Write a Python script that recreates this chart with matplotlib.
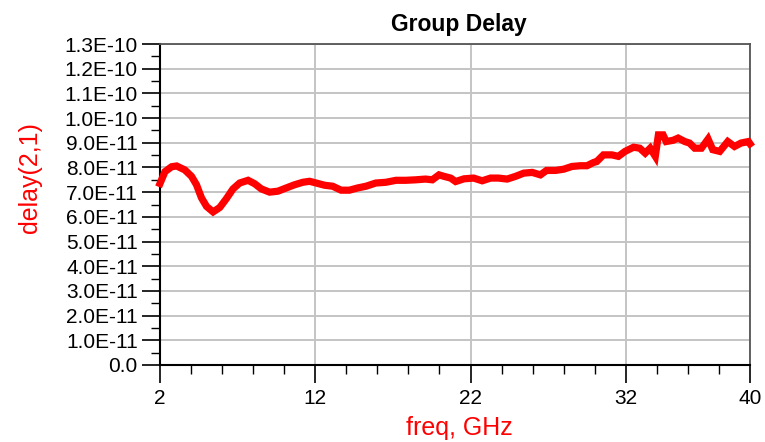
import matplotlib
matplotlib.use("Agg")
import matplotlib.pyplot as plt
from matplotlib.ticker import MultipleLocator, FixedLocator, FuncFormatter

plt.rcParams['font.family'] = ['Liberation Sans', 'DejaVu Sans']

# frequency in GHz, delay in units of 1e-11 s
freq = [2.0, 2.32, 2.75, 3.07, 3.6, 4.03, 4.35, 4.67, 5.0, 5.42,
        5.85, 6.28, 6.7, 7.13, 7.67, 8.1, 8.53, 9.06, 9.6, 10.13,
        10.67, 11.2, 11.63, 12.06, 12.6, 13.12, 13.66, 14.2, 14.73, 15.27,
        15.9, 16.55, 17.2, 17.83, 18.47, 19.1, 19.54, 19.97, 20.29, 20.72,
        21.04, 21.58, 22.2, 22.75, 23.29, 23.8, 24.36, 24.9, 25.43, 25.97,
        26.5, 26.9, 27.47, 28.0, 28.53, 29.07, 29.5, 29.92, 30.13, 30.56,
        31.1, 31.52, 31.95, 32.5, 32.9, 33.25, 33.57, 33.9, 34.1, 34.4,
        34.6, 35.05, 35.37, 35.8, 36.1, 36.44, 36.87, 37.3, 37.6, 38.05,
        38.57, 39.0, 39.43, 39.9, 40.0]
delay = [7.35, 7.83, 8.03, 8.06, 7.9, 7.64, 7.3, 6.77, 6.42, 6.2,
         6.38, 6.74, 7.13, 7.37, 7.48, 7.34, 7.13, 7.0, 7.04, 7.17,
         7.3, 7.4, 7.44, 7.37, 7.28, 7.24, 7.08, 7.08, 7.17, 7.24,
         7.37, 7.4, 7.48, 7.48, 7.5, 7.53, 7.5, 7.7, 7.64, 7.57,
         7.43, 7.54, 7.57, 7.46, 7.57, 7.57, 7.53, 7.64, 7.77, 7.8,
         7.7, 7.88, 7.88, 7.93, 8.04, 8.07, 8.07, 8.2, 8.24, 8.51,
         8.51, 8.45, 8.65, 8.82, 8.78, 8.58, 8.78, 8.45, 9.32, 9.32,
         9.05, 9.1, 9.19, 9.05, 8.99, 8.78, 8.78, 9.15, 8.72, 8.65,
         9.05, 8.85, 8.99, 9.05, 8.96]
delay_s = [d * 1e-11 for d in delay]

xticks = [2, 12, 22, 32, 40]

fig = plt.figure(figsize=(7.65, 4.42), dpi=100)
ax = fig.add_axes([160/765, 77/442, 590/765, 321/442])

ax.plot(freq, delay_s, color='#ff0000', lw=5.2, solid_joinstyle='miter',
        solid_capstyle='projecting', clip_on=False, zorder=3)

ax.set_xlim(2, 40)
ax.set_ylim(0, 1.3e-10)
ax.xaxis.set_major_locator(FixedLocator(xticks))
ax.xaxis.set_minor_locator(MultipleLocator(2))
ax.yaxis.set_major_locator(MultipleLocator(1e-11))
ax.yaxis.set_minor_locator(MultipleLocator(5e-12))
ax.yaxis.set_major_formatter(FuncFormatter(lambda v, p: '0.0' if abs(v) < 1e-15 else '%.1E' % v))

ax.grid(True, which='major', color='#c4c4c4', lw=1.4)
ax.set_axisbelow(True)
ax.tick_params(which='major', direction='out', length=13, width=1.2, labelsize=15, pad=3)
ax.tick_params(which='minor', direction='out', length=6.5, width=1.0)
ax.tick_params(axis='x', which='major', pad=4)

for s in ['left', 'bottom']:
    ax.spines[s].set_color('black')
    ax.spines[s].set_linewidth(1.5)
for s in ['top', 'right']:
    ax.spines[s].set_color('#555555')
    ax.spines[s].set_linewidth(1.3)

fig.text(459/765, 1 - 24/442, 'Group Delay', ha='center', va='center',
         fontsize=16.5, fontweight='bold')
fig.text(459/765, 1 - 428/442, 'freq, GHz', ha='center', va='center',
         fontsize=18, color='#ff0000')
fig.text(30/765, 1 - 178/442, 'delay(2,1)', ha='center', va='center',
         fontsize=18, color='#ff0000', rotation=90)

fig.savefig('out.png', dpi=100)
